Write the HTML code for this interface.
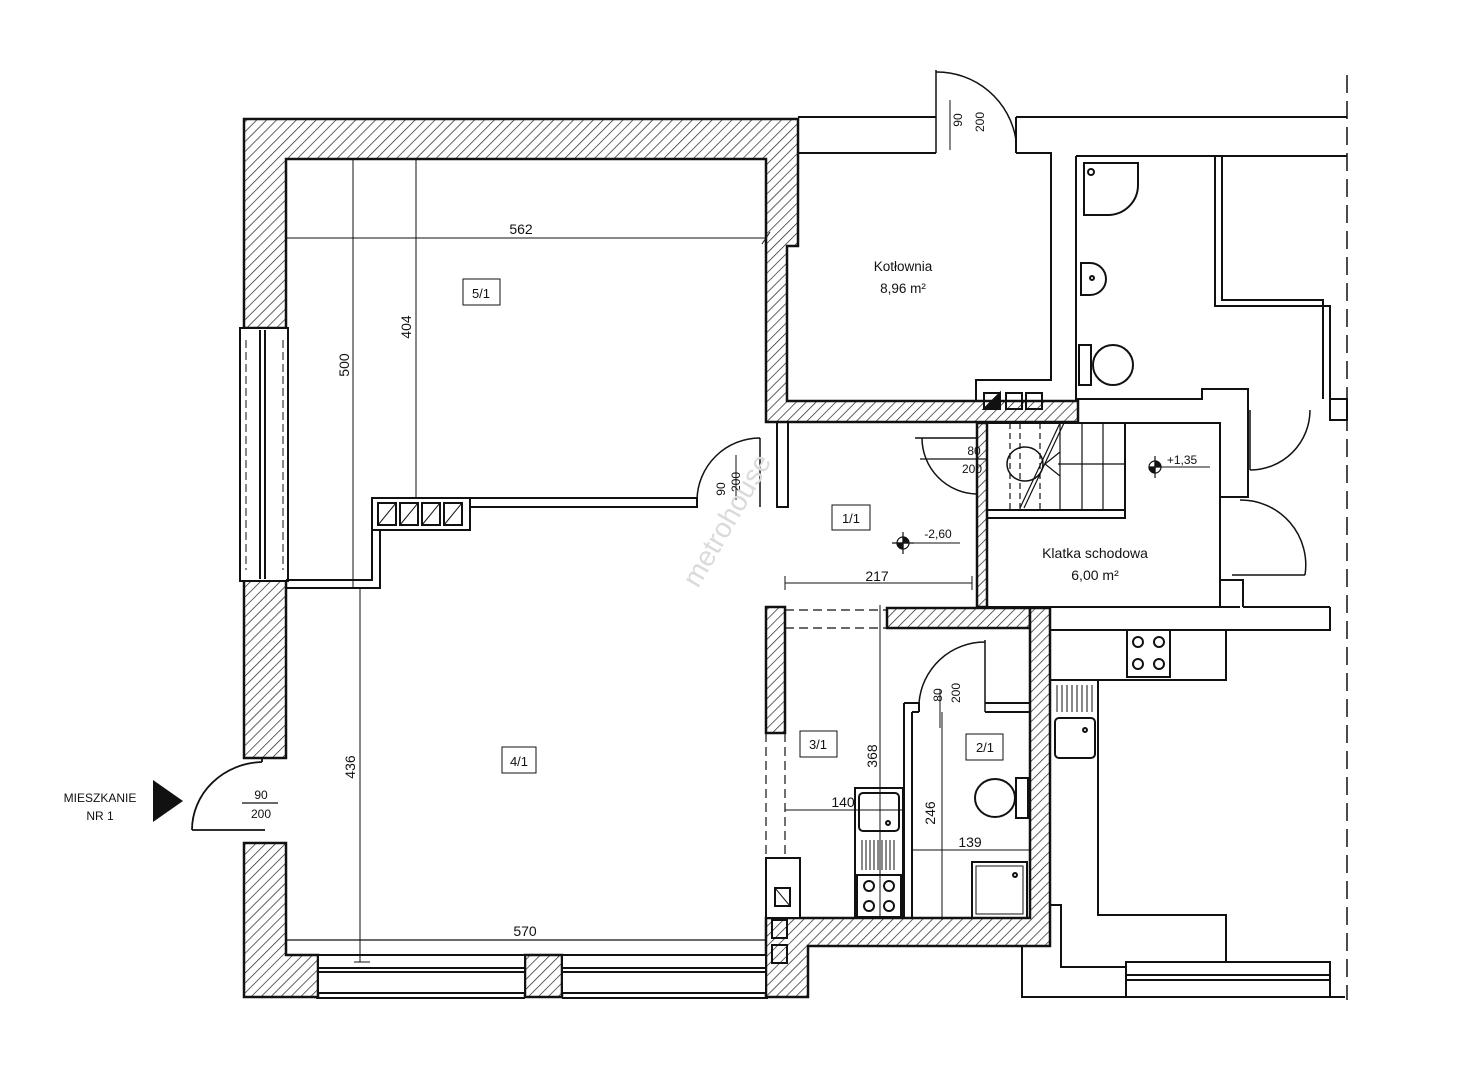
<!DOCTYPE html>
<html><head><meta charset="utf-8"><style>
html,body{margin:0;padding:0;background:#fff;}
svg{display:block;}
text{font-family:"Liberation Sans",sans-serif;fill:#111;}
</style></head><body>
<svg width="1475" height="1080" viewBox="0 0 1475 1080" xmlns="http://www.w3.org/2000/svg">
<defs>
<pattern id="h" patternUnits="userSpaceOnUse" width="7" height="7" patternTransform="rotate(45)">
<rect width="7" height="7" fill="#fff"/><line x1="0" y1="0" x2="0" y2="7" stroke="#222" stroke-width="1.4"/>
</pattern>
</defs>
<g stroke="#111" stroke-width="2.5" fill="url(#h)">
<path d="M244 119 H798 V246 H787 V401 H1078 V422 H766 V159 H286 V328 H244 Z"/>
<rect x="244" y="580" width="42" height="178"/>
<path d="M244 843 H286 V955 H318 V997 H244 Z"/>
<rect x="525" y="955" width="37" height="42"/>
<rect x="977" y="423" width="10" height="184"/>
<rect x="766" y="607" width="19" height="126"/>
<rect x="887" y="608" width="143" height="20"/>
<path d="M1030 608 H1050 V946 H808 V997 H766 V918 H1030 Z"/>
</g>
<g stroke="#111" stroke-width="2" fill="none">
<rect x="240" y="328" width="48" height="253" fill="#fff"/>
<line x1="260" y1="330" x2="260" y2="579"/><line x1="265" y1="330" x2="265" y2="579"/>
<line x1="246" y1="340" x2="246" y2="570" stroke-dasharray="8,4" stroke-width="1"/>
<line x1="283" y1="340" x2="283" y2="570" stroke-dasharray="8,4" stroke-width="1"/>
<rect x="318" y="955" width="207" height="38" fill="#fff"/>
<rect x="562" y="955" width="204" height="38" fill="#fff"/>
<line x1="318" y1="968" x2="525" y2="968"/><line x1="318" y1="972" x2="525" y2="972"/>
<line x1="562" y1="968" x2="766" y2="968"/><line x1="562" y1="972" x2="766" y2="972"/>
<line x1="316" y1="998" x2="525" y2="998"/><line x1="562" y1="998" x2="768" y2="998"/>
<line x1="286" y1="940" x2="766" y2="940" stroke-width="1.2"/>
<rect x="372" y="498" width="98" height="32" fill="#fff"/>
<rect x="378" y="503" width="18" height="22"/><rect x="400" y="503" width="18" height="22"/><rect x="422" y="503" width="18" height="22"/><rect x="444" y="503" width="18" height="22"/>
<line x1="378" y1="525" x2="396" y2="503" stroke-width="1"/><line x1="400" y1="525" x2="418" y2="503" stroke-width="1"/><line x1="422" y1="525" x2="440" y2="503" stroke-width="1"/><line x1="444" y1="525" x2="462" y2="503" stroke-width="1"/>
<path d="M470 498 H697 V507 H470"/>
<path d="M372 530 V580 H286 M380 530 V588 H286"/>
<path d="M760 438 V507 M697 500 A63 63 0 0 1 760 438" stroke-width="1.5"/>
<path d="M777 422 V507 H788 V422"/>
<path d="M798 117 H936 M1016 117 H1347 M798 153 H936 M1016 153 H1051 V380 H976 V401"/>
<path d="M936 70 V153 M1016 140 A80 80 0 0 0 936 72" stroke-width="1.5"/>
<path d="M1016 117 V153"/>
<path d="M1076 156 H1347 M1076 156 V399 H1202 V389 H1248 V497 H1220 V423 M1215 156 V306 H1330 V399 M1222 156 V300 H1323 V399"/>
<path d="M1084 163 H1138 V185 A30 30 0 0 1 1108 215 H1084 Z"/>
<circle cx="1091" cy="172" r="3"/>
<path d="M1081 263 H1090 A14 14 0 0 1 1090 295 H1081 Z"/><circle cx="1092" cy="278" r="2"/>
<rect x="1079" y="345" width="12" height="40"/><ellipse cx="1113" cy="365" rx="20" ry="20"/>
<rect x="984" y="393" width="16" height="16"/><rect x="1006" y="393" width="16" height="16"/><rect x="1026" y="393" width="16" height="16"/>
<path d="M984 409 L1000 393 V409 Z" fill="#111"/>
<path d="M987 423 H1220 V607 M987 607 H1240 M1078 401 V422"/>
<path d="M1220 580 H1243 V607 M1243 607 H1330"/>
<path d="M1050 630 H1330 V607" />
<path d="M987 510 H1125 V423 M987 518 H1125 V510"/>
<line x1="1010" y1="423" x2="1010" y2="510" stroke-dasharray="6,4" stroke-width="1.2"/>
<line x1="1020" y1="423" x2="1020" y2="510" stroke-dasharray="6,4" stroke-width="1.2"/>
<line x1="1040" y1="423" x2="1040" y2="510" stroke-dasharray="6,4" stroke-width="1.2"/>
<line x1="1060" y1="423" x2="1060" y2="510" stroke-width="1.2"/><line x1="1082" y1="423" x2="1082" y2="510" stroke-width="1.2"/><line x1="1103" y1="423" x2="1103" y2="510" stroke-width="1.2"/>
<line x1="1020" y1="508" x2="1060" y2="423" stroke-width="1.2"/><line x1="1024" y1="508" x2="1064" y2="423" stroke-width="1.2"/>
<path d="M1058 464 H1125" stroke-width="1.2"/><path d="M1060 452 L1045 464 L1060 476" stroke-width="1.2"/>
<ellipse cx="1025" cy="464" rx="18" ry="17" stroke-width="1.5"/>
<path d="M915 438 H977 M922 438 A56 56 0 0 0 977 494" stroke-width="1.5"/>
<line x1="920" y1="459" x2="987" y2="459" stroke-width="1.2"/>
<path d="M1250 410 V470 M1250 470 A60 60 0 0 0 1310 410" stroke-width="1.5"/>
<path d="M1232 575 H1305 M1240 500 A65 65 0 0 1 1305 575" stroke-width="1.5"/>
<line x1="1347" y1="75" x2="1347" y2="1000" stroke-dasharray="18,8" stroke-width="1.5"/>
<rect x="1330" y="399" width="17" height="21"/>
<path d="M785 610 H887 M785 628 H887" stroke-dasharray="9,5" stroke-width="1.2"/>
<path d="M766 733 V858 M785 733 V858" stroke-dasharray="9,5" stroke-width="1.2"/>
<rect x="766" y="858" width="34" height="60" fill="#fff"/>
<rect x="775" y="888" width="15" height="18"/><line x1="775" y1="888" x2="790" y2="906" stroke-width="1"/>
<rect x="772" y="920" width="15" height="18"/><rect x="772" y="945" width="15" height="18"/>
<path d="M904 703 V918 M912 712 V918 M904 703 H919 V712 M912 712 H919 M985 712 H1030 M985 703 H1030"/>
<path d="M985 640 V712 M919 703 A66 66 0 0 1 985 642" stroke-width="1.5"/>
<rect x="1016" y="778" width="12" height="40"/><ellipse cx="995" cy="798" rx="20" ry="19"/>
<rect x="972" y="862" width="55" height="56"/><rect x="976" y="866" width="47" height="48" stroke-width="1"/><circle cx="1015" cy="875" r="2"/>
<rect x="855" y="788" width="48" height="130"/>
<rect x="859" y="793" width="40" height="38" rx="4"/><circle cx="888" cy="823" r="2"/>
<g stroke-width="1"><line x1="862" y1="840" x2="862" y2="870"/><line x1="866" y1="840" x2="866" y2="870"/><line x1="870" y1="840" x2="870" y2="870"/><line x1="874" y1="840" x2="874" y2="870"/><line x1="878" y1="840" x2="878" y2="870"/><line x1="882" y1="840" x2="882" y2="870"/><line x1="886" y1="840" x2="886" y2="870"/><line x1="890" y1="840" x2="890" y2="870"/><line x1="894" y1="840" x2="894" y2="870"/></g>
<rect x="857" y="875" width="44" height="42"/>
<circle cx="869" cy="886" r="5"/><circle cx="889" cy="886" r="5"/><circle cx="869" cy="906" r="5"/><circle cx="889" cy="906" r="5"/>
<path d="M1050 680 H1226 V629 M1098 680 V915 H1226 V962"/>
<path d="M1050 905 H1061 V967 H1126"/>
<path d="M1022 946 V997 H1345"/>
<rect x="1126" y="962" width="204" height="35" fill="#fff"/>
<line x1="1126" y1="975" x2="1330" y2="975"/><line x1="1126" y1="980" x2="1330" y2="980"/>
<rect x="1127" y="630" width="43" height="47"/>
<circle cx="1138" cy="642" r="5"/><circle cx="1159" cy="642" r="5"/><circle cx="1138" cy="664" r="5"/><circle cx="1159" cy="664" r="5"/>
<rect x="1055" y="718" width="40" height="40" rx="4"/><circle cx="1085" cy="730" r="2"/>
<g stroke-width="1"><line x1="1057" y1="685" x2="1057" y2="712"/><line x1="1062" y1="685" x2="1062" y2="712"/><line x1="1067" y1="685" x2="1067" y2="712"/><line x1="1072" y1="685" x2="1072" y2="712"/><line x1="1077" y1="685" x2="1077" y2="712"/><line x1="1082" y1="685" x2="1082" y2="712"/><line x1="1087" y1="685" x2="1087" y2="712"/><line x1="1092" y1="685" x2="1092" y2="712"/></g>
<path d="M192 830 H265 M192 830 A72 68 0 0 1 262 762 M262 762 V758" stroke-width="1.8"/>
<line x1="242" y1="803" x2="278" y2="803" stroke-width="1.2"/>
</g>
<g stroke="#111" stroke-width="1" fill="none">
<line x1="286" y1="238" x2="766" y2="238"/><line x1="762" y1="244" x2="770" y2="232"/><line x1="766" y1="230" x2="766" y2="246"/>
<line x1="353" y1="159" x2="353" y2="588"/>
<line x1="416" y1="159" x2="416" y2="498"/>
<line x1="360" y1="588" x2="360" y2="962"/><line x1="354" y1="962" x2="370" y2="962"/>
<line x1="785" y1="583" x2="972" y2="583"/><line x1="785" y1="576" x2="785" y2="590"/><line x1="972" y1="576" x2="972" y2="590"/>
<line x1="880" y1="605" x2="880" y2="918"/>
<line x1="785" y1="810" x2="905" y2="810"/>
<line x1="942" y1="712" x2="942" y2="920"/>
<line x1="912" y1="850" x2="1030" y2="850"/>
<line x1="903" y1="543" x2="960" y2="543"/><line x1="1160" y1="467" x2="1210" y2="467"/>
<line x1="950" y1="100" x2="950" y2="150"/><line x1="940" y1="690" x2="940" y2="728"/>
<line x1="736" y1="500" x2="736" y2="455"/>
</g>
<g stroke="#111" stroke-width="1.2" fill="#fff">
<circle cx="903" cy="543" r="6"/><path d="M903 537 A6 6 0 0 1 909 543 H903 Z M897 543 H903 V549 A6 6 0 0 1 897 543" fill="#111"/>
<line x1="903" y1="532" x2="903" y2="554"/><line x1="892" y1="543" x2="914" y2="543"/>
<circle cx="1155" cy="467" r="6"/><path d="M1155 461 A6 6 0 0 1 1161 467 H1155 Z M1149 467 H1155 V473 A6 6 0 0 1 1149 467" fill="#111"/>
<line x1="1155" y1="456" x2="1155" y2="478"/>
</g>
<path d="M153 780 L183 801 L153 822 Z" fill="#111"/>
<g font-size="14" text-anchor="middle">
<text x="521" y="234">562</text>
<text x="356" y="372" transform="rotate(-90 349 372)">500</text>
<text x="414" y="330" transform="rotate(-90 411 330)">404</text>
<text x="358" y="770" transform="rotate(-90 355 770)">436</text>
<text x="525" y="936">570</text>
<text x="877" y="581">217</text>
<text x="883" y="762" transform="rotate(-90 877 762)">368</text>
<text x="843" y="807">140</text>
<text x="940" y="818" transform="rotate(-90 935 818)">246</text>
<text x="970" y="847">139</text>
<text x="903" y="271" font-size="13.5">Kotłownia</text>
<text x="903" y="293" font-size="13.5">8,96 m²</text>
<text x="1095" y="558" font-size="14">Klatka schodowa</text>
<text x="1095" y="580" font-size="14">6,00 m²</text>
</g>
<g font-size="12" text-anchor="middle">
<text x="974" y="455">80</text><text x="972" y="473">200</text>
<text x="261" y="799">90</text><text x="261" y="818">200</text>
<text x="1182" y="464">+1,35</text><text x="938" y="538">-2,60</text>
<text x="100" y="802">MIESZKANIE</text><text x="100" y="820">NR 1</text>
<text x="970" y="128" transform="rotate(-90 962 128)">90</text>
<text x="990" y="128" transform="rotate(-90 984 128)">200</text>
<text x="733" y="497" transform="rotate(-90 725 497)">90</text>
<text x="748" y="490" transform="rotate(-90 740 490)">200</text>
<text x="947" y="700" transform="rotate(-90 942 700)">80</text>
<text x="967" y="700" transform="rotate(-90 960 700)">200</text>
</g>
<g stroke="#111" stroke-width="1" fill="#fff">
<rect x="463" y="279" width="37" height="26"/><rect x="502" y="747" width="34" height="26"/>
<rect x="832" y="505" width="38" height="25"/><rect x="800" y="731" width="37" height="26"/>
<rect x="966" y="734" width="37" height="26"/>
</g>
<g font-size="13" text-anchor="middle">
<text x="481" y="298">5/1</text><text x="519" y="766">4/1</text><text x="851" y="523">1/1</text>
<text x="818" y="749">3/1</text><text x="985" y="752">2/1</text>
</g>
<text x="735" y="525" font-size="28" style="fill:#dadada" text-anchor="middle" transform="rotate(-60 735 525)">metrohouse</text>
</svg>
</body></html>
